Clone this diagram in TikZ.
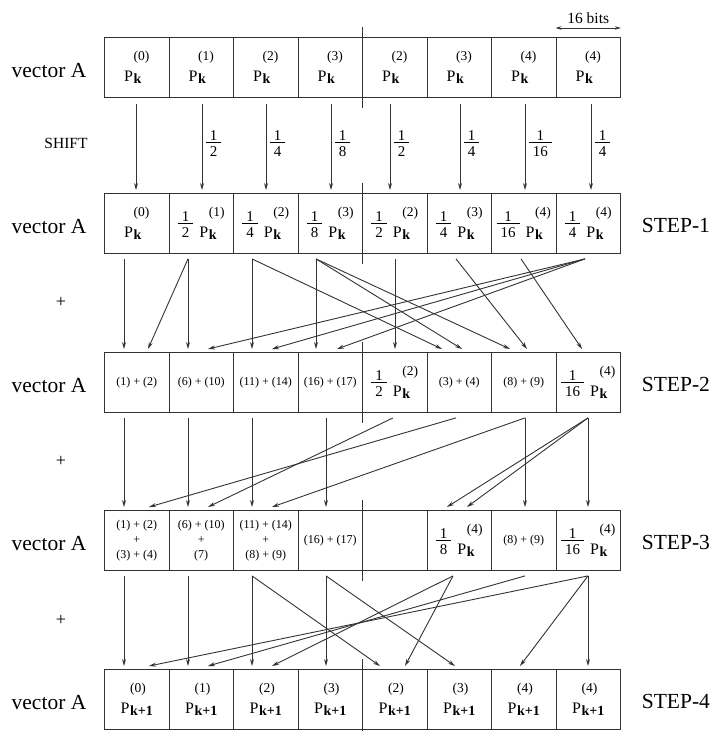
\documentclass[tikz,border=0pt]{standalone}
\usepackage{fontspec}
\setmainfont{Liberation Serif}
\usetikzlibrary{arrows.meta}

\newlength{\supw}
\newlength{\subw}
% P with superscript (order) above and bold subscript (step)
\newcommand{\Pk}[2]{%
  \settowidth{\supw}{\fontsize{13.5}{13.5}\selectfont #1}%
  \settowidth{\subw}{\fontsize{14}{14}\selectfont\bfseries #2}%
  \ifdim\subw>\supw\setlength{\supw}{\subw}\fi
  P\kern0.6pt\rlap{\raisebox{20.5pt}{\fontsize{13.5}{13.5}\selectfont #1}}%
  \makebox[\supw][l]{\raisebox{-2pt}{\fontsize{14}{14}\selectfont\bfseries #2}}}
% small stacked fraction
\newcommand{\fr}[2]{{\fontsize{15}{15}\selectfont\renewcommand{\arraystretch}{0}%
  \setlength{\arrayrulewidth}{0.7pt}%
  \begin{tabular}[b]{@{\hspace{4pt}}c@{\hspace{4pt}}}#1\\[1.5pt]\hline\rule{0pt}{13.5pt}#2\end{tabular}}}
\newcommand{\fP}[3]{\fr{#1}{#2}\hspace{6pt}\Pk{(#3)}{k}}
\newcommand{\sm}{\fontsize{12}{15}\selectfont}
\newcommand{\three}[2]{{\sm\begin{tabular}{@{}c@{}}#1\\+\\#2\end{tabular}}}

\begin{document}
\begin{tikzpicture}[x=1pt, y=-1pt, line width=0.9pt,
    cell/.style={draw=black!80, anchor=north west, minimum width=64.5pt, minimum height=60pt,
      inner sep=0pt, font=\fontsize{16}{16}\selectfont},
    flow/.style={draw=black!80, -{Stealth[length=7pt, width=4pt]}},
    lab/.style={font=\fontsize{21.5}{21.5}\selectfont}]
  \useasboundingbox (0,0) rectangle (717,731);
  % vector A, five times
  \foreach \s [count=\i from 0] in {0,1,2,3,2,3,4,4}
    \node[cell] (r0c\i) at ({104+64.5*\i},37) {\Pk{(\s)}{k}};
  \foreach \txt [count=\i from 0] in {{\Pk{(0)}{k}}, \fP{1}{2}{1}, \fP{1}{4}{2}, \fP{1}{8}{3},
      \fP{1}{2}{2}, \fP{1}{4}{3}, \fP{1}{16}{4}, \fP{1}{4}{4}}
    \node[cell] (r1c\i) at ({104+64.5*\i},193) {\txt};
  \foreach \txt [count=\i from 0] in {{\sm (1) + (2)}, {\sm (6) + (10)}, {\sm (11) + (14)},
      {\sm (16) + (17)}, \fP{1}{2}{2}, {\sm (3) + (4)}, {\sm (8) + (9)}, \fP{1}{16}{4}}
    \node[cell] (r2c\i) at ({104+64.5*\i},352) {\txt};
  \foreach \txt [count=\i from 0] in {\three{(1) + (2)}{(3) + (4)}, \three{(6) + (10)}{(7)},
      \three{(11) + (14)}{(8) + (9)}, {\sm (16) + (17)}, {}, \fP{1}{8}{4}, {\sm (8) + (9)},
      \fP{1}{16}{4}}
    \node[cell] (r3c\i) at ({104+64.5*\i},510) {\txt};
  \foreach \s [count=\i from 0] in {0,1,2,3,2,3,4,4}
    \node[cell] (r4c\i) at ({104+64.5*\i},669) {\Pk{(\s)}{k+1}};
  % middle divider
  \foreach \row in {0,...,4}
    \path[draw=black!80] ([yshift=10pt]r\row c4.north west) -- ([yshift=-10pt]r\row c4.south west);
  % word size
  \coordinate (b1) at ([yshift=9pt]r0c7.north west);
  \coordinate (b2) at ([yshift=9pt]r0c7.north east);
  \path[draw=black!80, {Stealth[length=6pt, width=3.5pt]}-{Stealth[length=6pt, width=3.5pt]}]
    (b1) -- node[above=1pt, font=\fontsize{15.5}{15.5}\selectfont] (bits) {16 bits} (b2);
  % labels
  \foreach \row in {0,...,4}
    \node[lab] (va\row) at ([xshift=-55pt, yshift=-3pt]r\row c0.west) {vector A};
  \foreach \row in {1,...,4}
    \node[lab] (step\row) at ([xshift=55pt, yshift=-2pt]r\row c7.east) {STEP-\row};
  \foreach \y [count=\n] in {302,461,620}
    \node[font=\fontsize{18}{18}\selectfont] (plus\n) at (61,\y) {+};
  \node[font=\fontsize{15.5}{15.5}\selectfont] (shift) at (66,143) {SHIFT};
  % shift
  \path[flow] ([xshift=32pt, yshift=-6pt]r0c0.south west) -- ([xshift=32pt, yshift=3pt]r1c0.north west);
  \foreach \c/\sx/\den in {1/33.5/2, 2/33/4, 3/33.5/8, 4/28/2, 5/33.5/4, 6/34/16, 7/35.5/4}
    \path[flow] ([xshift=\sx pt, yshift=-6pt]r0c\c.south west)
      -- node[right, pos=0.46, inner sep=3.5pt] (f\c) {\fr{1}{\den}}
      ([xshift=\sx pt, yshift=3pt]r1c\c.north west);
  % step 1 -> step 2
  \foreach \src/\sx/\dst/\dx in {r1c0/20/r2c0/20, r1c1/19.5/r2c1/19.5, r1c1/19.5/r2c0/44,
      r1c2/19/r2c2/19, r1c2/19/r2c5/15.5, r1c3/18.5/r2c3/18.5, r1c3/18.5/r2c5/35.5,
      r1c3/18.5/r2c6/19, r1c4/33/r2c4/33, r1c5/29.5/r2c6/36, r1c6/30/r2c7/26.5,
      r1c7/29.5/r2c1/39.5, r1c7/29.5/r2c2/39, r1c7/29.5/r2c3/39.5}
    \path[flow] ([xshift=\sx pt, yshift=-5pt]\src.south west) -- ([xshift=\dx pt, yshift=3pt]\dst.north west);
  % step 2 -> step 3
  \foreach \src/\sx/\dst/\dx in {r2c0/20/r3c0/20, r2c1/19.5/r3c1/19.5, r2c2/19/r3c2/19,
      r2c3/28.5/r3c3/28.5, r2c4/31/r3c1/39.5, r2c5/29.5/r3c0/45, r2c6/34/r3c2/39,
      r2c6/34/r3c6/34, r2c7/32.5/r3c5/20.5, r2c7/32.5/r3c5/40.5, r2c7/32.5/r3c7/32.5}
    \path[flow] ([xshift=\sx pt, yshift=-5pt]\src.south west) -- ([xshift=\dx pt, yshift=3pt]\dst.north west);
  % step 3 -> step 4
  \foreach \src/\sx/\dst/\dx in {r3c0/20/r4c0/20, r3c1/19.5/r4c1/19.5, r3c2/19/r4c2/19,
      r3c2/19/r4c4/18, r3c3/28.5/r4c3/28.5, r3c3/28.5/r4c5/28.5, r3c5/26.5/r4c2/39,
      r3c5/26.5/r4c4/43, r3c6/34/r4c1/39.5, r3c7/32.5/r4c0/45, r3c7/32.5/r4c6/29,
      r3c7/32.5/r4c7/32.5}
    \path[flow] ([xshift=\sx pt, yshift=-5pt]\src.south west) -- ([xshift=\dx pt, yshift=3pt]\dst.north west);
\end{tikzpicture}
\end{document}
